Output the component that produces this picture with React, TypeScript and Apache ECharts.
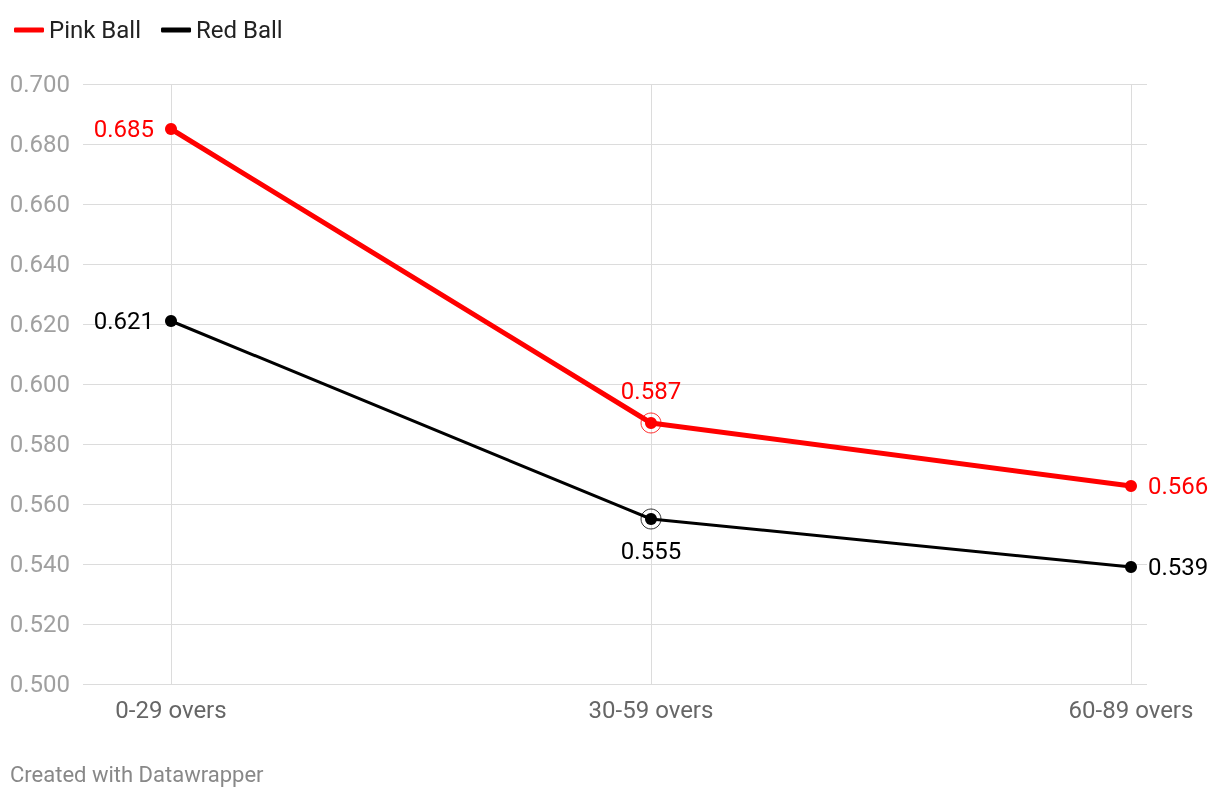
import React, { useEffect, useRef } from "react";
import * as echarts from "echarts";

const categories = ["0-29 overs", "30-59 overs", "60-89 overs"];
const pinkBall = [0.685, 0.587, 0.566];
const redBall = [0.621, 0.555, 0.539];
const pinkLabelPos = ["left", "top", "right"];
const redLabelPos = ["left", "bottom", "right"];
const highlightIndex = 1;

export default function App() {
  const ref = useRef<HTMLDivElement>(null);
  useEffect(() => {
    if (!ref.current) return;
    const chart = echarts.init(ref.current, null, { renderer: "svg" });
    const font = "Roboto, sans-serif";
    const mk = (vals: number[], pos: string[]) =>
      vals.map((v, i) => ({
        value: v,
        label: {
          position: pos[i] as any,
          distance: pos[i] === "top" || pos[i] === "bottom" ? 14 : 11,
        },
      }));
    const ring = (vals: number[]) =>
      vals.map((v, i) => (i === highlightIndex ? v : null));
    const gridColor = "#dcdcdc";
    chart.setOption({
      animation: false,
      textStyle: { fontFamily: font },
      legend: {
        left: 9,
        top: 13,
        itemWidth: 30,
        itemHeight: 5,
        itemGap: 20,
        icon: "roundRect",
        data: ["Pink Ball", "Red Ball"],
        textStyle: { fontSize: 24, color: "#222", fontFamily: font },
        selectedMode: false,
      },
      grid: [
        { left: 83, right: 73, top: 84, bottom: 116 },
        { left: 171, right: 89, top: 84, bottom: 116 },
      ],
      xAxis: [
        { type: "category", gridIndex: 0, show: false, data: categories },
        {
          type: "category",
          gridIndex: 1,
          boundaryGap: false,
          data: categories,
          axisLine: { show: false },
          axisTick: { show: false },
          axisLabel: { color: "#666", fontSize: 24, margin: 14, fontFamily: font },
          splitLine: { show: true, lineStyle: { color: gridColor, width: 1 } },
        },
      ],
      yAxis: [
        {
          type: "value",
          gridIndex: 0,
          min: 0.5,
          max: 0.7,
          interval: 0.02,
          axisLine: { show: false },
          axisTick: { show: false },
          axisLabel: {
            color: "#a0a0a0",
            fontSize: 24,
            margin: 13,
            fontFamily: font,
            formatter: (v: number) => v.toFixed(3),
          },
          splitLine: { lineStyle: { color: gridColor, width: 1 } },
        },
        {
          type: "value",
          gridIndex: 1,
          min: 0.5,
          max: 0.7,
          interval: 0.02,
          show: false,
          splitLine: { show: false },
        },
      ],
      series: [
        {
          name: "Red Ball",
          type: "line",
          xAxisIndex: 1,
          yAxisIndex: 1,
          data: mk(redBall, redLabelPos),
          color: "#000000",
          lineStyle: { width: 3, color: "#000" },
          symbol: "circle",
          symbolSize: 12,
          itemStyle: { color: "#000" },
          label: {
            show: true,
            color: "#000",
            fontSize: 24,
            fontFamily: font,
            formatter: (p: any) => Number(p.value).toFixed(3),
          },
          z: 3,
        },
        {
          name: "Pink Ball",
          type: "line",
          xAxisIndex: 1,
          yAxisIndex: 1,
          data: mk(pinkBall, pinkLabelPos),
          color: "#ff0000",
          lineStyle: { width: 5, color: "#ff0000" },
          symbol: "circle",
          symbolSize: 12,
          itemStyle: { color: "#ff0000" },
          label: {
            show: true,
            color: "#ff0000",
            fontSize: 24,
            fontFamily: font,
            formatter: (p: any) => Number(p.value).toFixed(3),
          },
          z: 4,
        },
        {
          type: "scatter",
          xAxisIndex: 1,
          yAxisIndex: 1,
          data: ring(pinkBall),
          symbol: "circle",
          symbolSize: 20,
          itemStyle: { color: "rgba(0,0,0,0)", borderColor: "#ff0000", borderWidth: 1 },
          silent: true,
          z: 5,
        },
        {
          type: "scatter",
          xAxisIndex: 1,
          yAxisIndex: 1,
          data: ring(redBall),
          symbol: "circle",
          symbolSize: 20,
          itemStyle: { color: "rgba(0,0,0,0)", borderColor: "#000", borderWidth: 1 },
          silent: true,
          z: 5,
        },
      ],
      graphic: [
        {
          type: "text",
          left: 10,
          top: 763,
          style: {
            text: "Created with Datawrapper",
            fill: "#888",
            fontSize: 22,
            fontFamily: font,
          },
        },
      ],
    });
    return () => chart.dispose();
  }, []);
  return (
    <div
      ref={ref}
      style={{ position: "fixed", left: 0, top: 0, width: 1220, height: 800 }}
    />
  );
}
